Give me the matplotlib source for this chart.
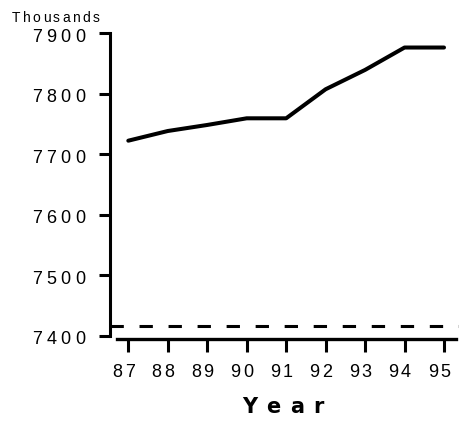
import matplotlib
matplotlib.use('Agg')
import matplotlib.pyplot as plt
from matplotlib import transforms
from matplotlib.font_manager import FontProperties

# ---- data ----
years = [87, 88, 89, 90, 91, 92, 93, 94, 95]
values = [7722, 7738, 7748, 7759, 7759, 7807, 7839, 7876, 7876]
ref_level = 7416
xtick_labels = ['87', '88', '89', '90', '91', '92', '93', '94', '95']
yticks = [7400, 7500, 7600, 7700, 7800, 7900]
ytick_labels = ['7400', '7500', '7600', '7700', '7800', '7900']
x_title = 'Year'
y_unit = 'Thousands'

W, H, DPI = 460, 421, 100
fig = plt.figure(figsize=(W / DPI, H / DPI), dpi=DPI)


def fx(px):
    return px / W


def fy(py):
    return 1 - py / H


ax = fig.add_axes([fx(110), fy(335.5), fx(460) - fx(110), fy(33) - fy(335.5)])
ax.set_xlim(86.536, 95.405)
ax.set_ylim(7400, 7900)

ax.plot(years, values, color='black', lw=2.9,
        solid_capstyle='round', solid_joinstyle='round')
ax.axhline(ref_level, color='black', lw=2.2,
           linestyle=(0, (9.6 / 2.2, 11.3 / 2.2)), dash_capstyle='butt')

for s in ['top', 'right']:
    ax.spines[s].set_visible(False)
ax.spines['left'].set_linewidth(2.2)
ax.spines['bottom'].set_linewidth(2.4)
ax.spines['bottom'].set_position(('outward', 2.6))
ax.spines['bottom'].set_bounds(86.71, 95.30)

ax.set_xticks(years)
ax.set_yticks(yticks)
ax.tick_params(axis='x', direction='out', length=9.7, width=2.2,
               labelbottom=False)
ax.tick_params(axis='y', direction='out', length=7.9, width=2.2,
               labelleft=False)

renderer = fig.canvas.get_renderer()
prop_tick = FontProperties(family='Liberation Sans', size=13)

# y tick labels (letter-spaced)
ytrans = transforms.blended_transform_factory(ax.transAxes, ax.transData)
for yv, lab in zip(yticks, ytick_labels):
    n = len(lab)
    for i, ch in enumerate(lab):
        dx = -30 - 14.3 * (n - 1 - i)
        tr = transforms.offset_copy(ytrans, fig=fig, x=dx, y=-8.7, units='dots')
        ax.text(0, yv, ch, transform=tr, ha='center', va='baseline',
                fontproperties=prop_tick, color='black')

# x tick labels (letter-spaced)
xtrans = transforms.blended_transform_factory(ax.transData, ax.transAxes)
for xv, lab in zip(years, xtick_labels):
    n = len(lab)
    for i, ch in enumerate(lab):
        dx = -5 + (i - (n - 1) / 2) * 12.6
        tr = transforms.offset_copy(xtrans, fig=fig, x=dx, y=-41.5, units='dots')
        ax.text(xv, 0, ch, transform=tr, ha='center', va='baseline',
                fontproperties=prop_tick, color='black')


def tracked(x_left_px, baseline_px, s, prop, track):
    x = x_left_px
    for ch in s:
        w, h, d = renderer.get_text_width_height_descent(ch, prop, ismath=False)
        fig.text(fx(x), fy(baseline_px), ch, fontproperties=prop,
                 ha='left', va='baseline', color='black')
        x += w + track


tracked(12, 21.7, y_unit,
        FontProperties(family='Liberation Sans', size=10), 2.3)
tracked(241.7, 413.3, x_title,
        FontProperties(family='DejaVu Sans', size=15, weight='bold'), 9.5)

fig.savefig('out.png', dpi=DPI)
